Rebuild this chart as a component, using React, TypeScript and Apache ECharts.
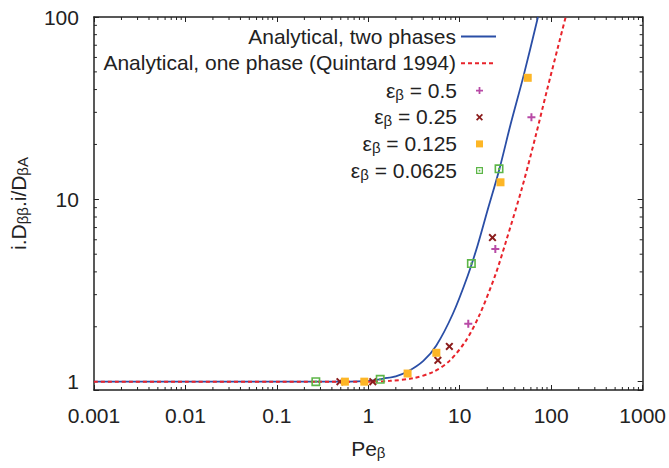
import React, { useEffect, useRef } from "react";
import * as echarts from "echarts";

// Analytical, two phases
const twoPhasePe = [0.001, 0.01, 0.1, 0.5, 1.05, 1.47, 2.0, 2.73, 4.0, 5.55, 8.39, 12.2, 15.7, 20, 26.9, 36, 50.1, 71.7];
const twoPhaseD = [1, 1, 1, 1, 1.01, 1.04, 1.07, 1.14, 1.3, 1.58, 2.35, 3.8, 5.6, 8.6, 14.4, 25.8, 48, 100];
// Analytical, one phase (Quintard 1994)
const onePhasePe = [0.001, 0.01, 0.1, 1, 1.73, 3.1, 5.09, 7.73, 11.7, 16.3, 24.3, 31.8, 48.1, 67.2, 89.8, 120, 144];
const onePhaseD = [1, 1, 1, 1, 1.01, 1.045, 1.13, 1.3, 1.68, 2.3, 3.8, 5.8, 11.6, 22, 39.5, 70, 100];
// simulations
const eps05Pe = [12.4, 24.5, 60.8];
const eps05D = [2.08, 5.34, 28.2];
const eps025Pe = [0.49, 1.12, 5.77, 7.7, 22.8];
const eps025D = [1.0, 1.0, 1.31, 1.56, 6.17];
const eps0125Pe = [0.555, 0.905, 2.69, 5.55, 27.9, 55.4];
const eps0125D = [1.0, 1.0, 1.108, 1.44, 12.4, 46.4];
const eps00625Pe = [0.267, 1.35, 13.4, 26.9];
const eps00625D = [1.0, 1.03, 4.44, 14.7];

const xTickLabels = ["0.001", "0.01", "0.1", "1", "10", "100", "1000"];
const yTickLabels = ["1", "10", "100"];

const names = {
  two: "Analytical, two phases",
  one: "Analytical, one phase (Quintard 1994)",
  e05: "εβ = 0.5",
  e025: "εβ = 0.25",
  e0125: "εβ = 0.125",
  e00625: "εβ = 0.0625",
};
const legendRich: Record<string, string> = {
  [names.two]: "{m|Analytical, two phases}",
  [names.one]: "{m|Analytical, one phase (Quintard 1994)}",
  [names.e05]: "{m|ε}{s|β}{m| = 0.5}",
  [names.e025]: "{m|ε}{s|β}{m| = 0.25}",
  [names.e0125]: "{m|ε}{s|β}{m| = 0.125}",
  [names.e00625]: "{m|ε}{s|β}{m| = 0.0625}",
};

const FONT = "Liberation Sans";
const INK = "#222";
const rich = {
  m: { fontSize: 21, fontFamily: FONT, color: INK, lineHeight: 22, padding: [0, 0, 4, 0], verticalAlign: "top" },
  s: { fontSize: 15, fontFamily: FONT, color: INK, lineHeight: 16, verticalAlign: "bottom" },
};

const zip = (a: number[], b: number[]) => a.map((v, i) => [v, b[i]]);

const xMinor: number[] = [];
for (let d = -3; d <= 2; d++) for (let k = 2; k <= 9; k++) xMinor.push(Number((k * Math.pow(10, d)).toPrecision(3)));
const yMinor: number[] = [];
for (let d = 0; d <= 1; d++) for (let k = 2; k <= 9; k++) yMinor.push(k * Math.pow(10, d));

const plusPath = "path://M3,0H5V3H8V5H5V8H3V5H0V3H3Z";
const crossPath = "path://M1.4,0L4,2.6L6.6,0L8,1.4L5.4,4L8,6.6L6.6,8L4,5.4L1.4,8L0,6.6L2.6,4L0,1.4Z";
const squarePath = "path://M0,0H8V8H0Z";
const boxDotPath = "path://M0,0H10V10H0ZM1.8,1.8V8.2H8.2V1.8ZM3.8,3.8H6.2V6.2H3.8Z";

export default function App() {
  const ref = useRef<HTMLDivElement>(null);
  useEffect(() => {
    if (!ref.current) return;
    const chart = echarts.init(ref.current, null, { renderer: "svg" });
    const fmtX = (v: number) => {
      const s = Number(v.toPrecision(6)).toString();
      return xTickLabels.includes(s) ? s : "";
    };
    const fmtY = (v: number) => {
      const s = Number(v.toPrecision(6)).toString();
      return yTickLabels.includes(s) ? s : "";
    };
    const axisLine = { show: true, lineStyle: { color: INK, width: 1.5 } };
    const axisTick = { show: true, inside: true, length: 5, lineStyle: { color: INK, width: 1 } };
    const labelStyle = { fontSize: 21, fontFamily: FONT, color: INK };
    const minorStyle = { stroke: INK, lineWidth: 1 };

    chart.setOption({
      animation: false,
      backgroundColor: "#fff",
      grid: { left: 91, right: 24, top: 17, bottom: 73, containLabel: false },
      xAxis: [
        {
          type: "log", logBase: 10, min: 0.001, max: 1000, position: "bottom",
          axisLine, axisTick, splitLine: { show: false },
          axisLabel: { ...labelStyle, margin: 15, formatter: fmtX },
          name: "{m|Pe}{s|β}", nameLocation: "middle", nameGap: 48,
          nameTextStyle: { rich },
        },
        {
          type: "log", logBase: 10, min: 0.001, max: 1000, position: "top",
          axisLine, axisTick, splitLine: { show: false }, axisLabel: { show: false },
        },
      ],
      yAxis: [
        {
          type: "log", logBase: 10, min: 0.9, max: 100, position: "left",
          axisLine, axisTick, splitLine: { show: false },
          axisLabel: { ...labelStyle, margin: 15, formatter: fmtY },
          name: "{m|i.D}{s|ββ}{m|.i/D}{s|βA}", nameLocation: "middle", nameGap: 51, nameRotate: 90,
          nameTextStyle: { rich },
        },
        {
          type: "log", logBase: 10, min: 0.9, max: 100, position: "right",
          axisLine, axisTick, splitLine: { show: false }, axisLabel: { show: false },
        },
      ],
      legend: [
        {
          orient: "vertical", right: 172, top: 25.5, align: "right", padding: 0, itemGap: 1.7,
          itemWidth: 35, itemHeight: 14,
          itemStyle: { opacity: 0 },
          data: [names.two, names.one],
          formatter: (n: string) => legendRich[n],
          textStyle: { rich },
        },
        {
          orient: "vertical", right: 186, top: 79.5, align: "right", padding: 0, itemGap: 1.7,
          itemWidth: 35, itemHeight: 7,
          data: [names.e05, names.e025, names.e0125, names.e00625],
          formatter: (n: string) => legendRich[n],
          textStyle: { rich },
        },
      ],
      series: [
        {
          type: "custom", name: "xminor", silent: true, clip: false, z: 1,
          data: xMinor.map((v) => [v, 1]),
          renderItem: (params: any, api: any) => {
            const x = api.coord([api.value(0), 1])[0];
            const cs = params.coordSys;
            const b = cs.y + cs.height;
            return {
              type: "group",
              children: [
                { type: "line", shape: { x1: x, y1: b, x2: x, y2: b - 3 }, style: minorStyle },
                { type: "line", shape: { x1: x, y1: cs.y, x2: x, y2: cs.y + 3 }, style: minorStyle },
              ],
            };
          },
        },
        {
          type: "custom", name: "yminor", silent: true, clip: false, z: 1,
          data: yMinor.map((v) => [1, v]),
          renderItem: (params: any, api: any) => {
            const y = api.coord([1, api.value(1)])[1];
            const cs = params.coordSys;
            const r = cs.x + cs.width;
            return {
              type: "group",
              children: [
                { type: "line", shape: { x1: cs.x, y1: y, x2: cs.x + 3, y2: y }, style: minorStyle },
                { type: "line", shape: { x1: r, y1: y, x2: r - 3, y2: y }, style: minorStyle },
              ],
            };
          },
        },
        {
          type: "line", name: names.two, data: zip(twoPhasePe, twoPhaseD), symbol: "none",
          smooth: 0.3, clip: true, z: 2,
          lineStyle: { color: "#2a4ea6", width: 1.8 }, itemStyle: { color: "#2a4ea6" },
        },
        {
          type: "line", name: names.one, data: zip(onePhasePe, onePhaseD), symbol: "none",
          smooth: 0.3, clip: true, z: 2,
          lineStyle: { color: "#e8232b", width: 2, type: [4, 3] }, itemStyle: { color: "#e8232b" },
        },
        {
          type: "scatter", name: names.e05, data: zip(eps05Pe, eps05D), symbol: plusPath, symbolSize: 8, z: 3,
          itemStyle: { color: "#b84aa6", opacity: 1 },
        },
        {
          type: "scatter", name: names.e025, data: zip(eps025Pe, eps025D), symbol: crossPath, symbolSize: 8, z: 3,
          itemStyle: { color: "#8b1c1c", opacity: 1 },
        },
        {
          type: "scatter", name: names.e0125, data: zip(eps0125Pe, eps0125D), symbol: squarePath, symbolSize: 8, z: 3,
          itemStyle: { color: "#fdb626", opacity: 1 },
        },
        {
          type: "scatter", name: names.e00625, data: zip(eps00625Pe, eps00625D), symbol: boxDotPath, symbolSize: 9, z: 3,
          itemStyle: { color: "#5db648", opacity: 1 },
        },
      ],
    });
    return () => chart.dispose();
  }, []);
  return <div ref={ref} style={{ position: "fixed", left: 0, top: 0, width: 669, height: 468 }} />;
}
